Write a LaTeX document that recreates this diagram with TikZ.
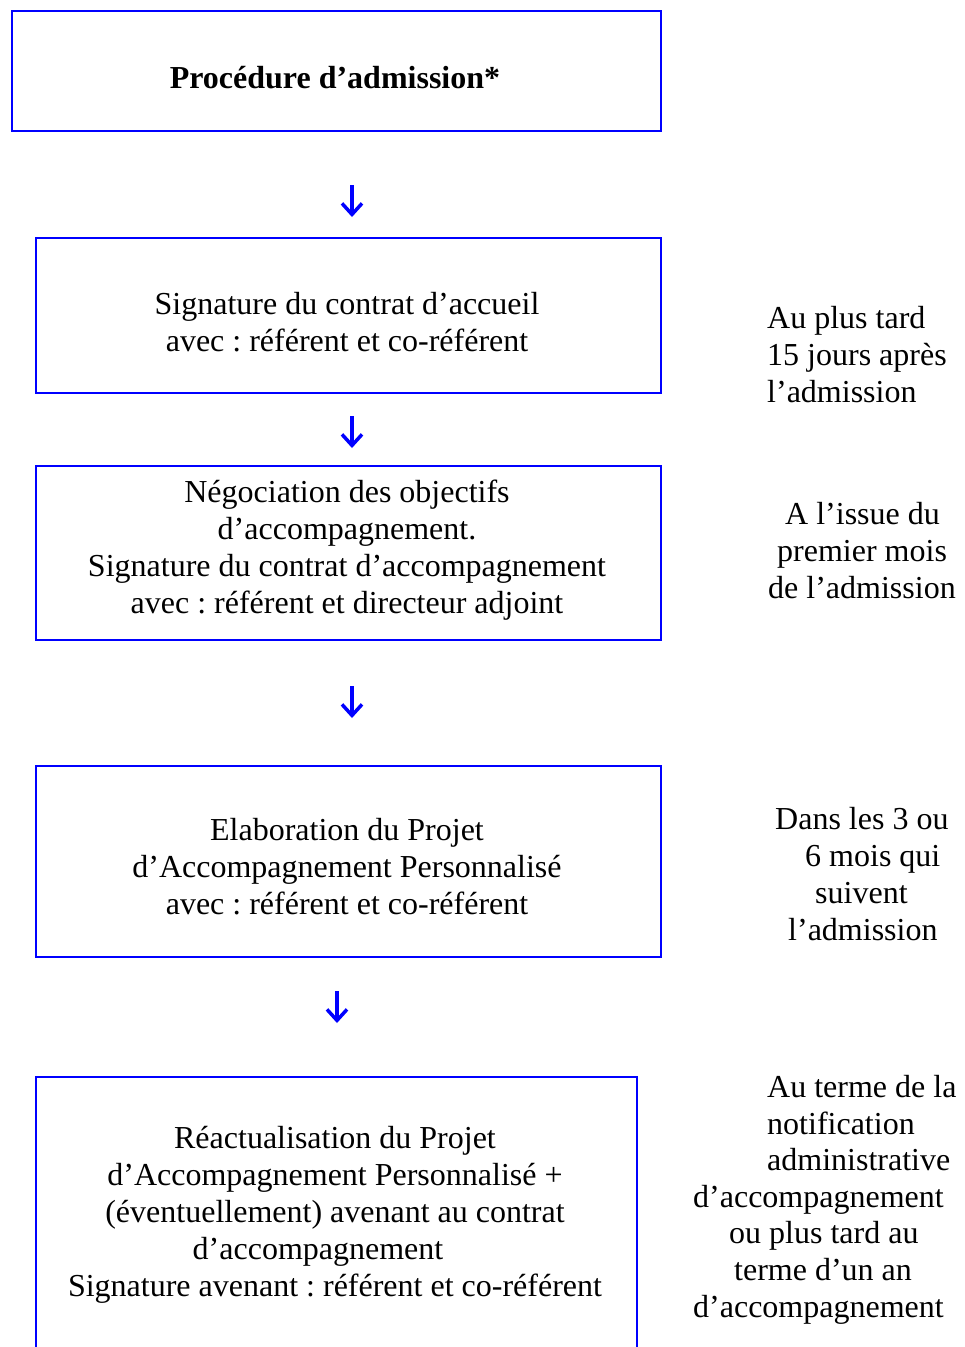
\documentclass[tikz,border=0pt]{standalone}
\usepackage{fontspec}
\setmainfont{Liberation Serif}
\usetikzlibrary{arrows.meta}
\definecolor{bl}{RGB}{0,0,255}
\frenchspacing
\begin{document}
\begin{tikzpicture}[x=1pt,y=-1pt,
  box/.style={draw=bl, line width=2pt, anchor=north west, inner sep=0pt},
  txt/.style={font=\fontsize{32}{37}\selectfont, align=center, inner sep=0pt},
  side/.style={font=\fontsize{32}{37}\selectfont, anchor=base west, inner sep=0pt},
  arr/.style={draw=bl, line width=3.5pt, -{Straight Barb[length=11pt,width=20pt,line width=3.5pt]}}]
\useasboundingbox (0,0) rectangle (965,1347);
\clip (0,0) rectangle (965,1347);
\fill[white] (0,0) rectangle (965,1347);

% boxes
\node[box, minimum width=649pt, minimum height=120pt] (b1) at (11,10) {};
\node[box, minimum width=625pt, minimum height=155pt] (b2) at (35,237) {};
\node[box, minimum width=625pt, minimum height=174pt] (b3) at (35,465) {};
\node[box, minimum width=625pt, minimum height=191pt] (b4) at (35,765) {};
\node[box, minimum width=601pt, minimum height=320pt] (b5) at (35,1076) {};

% box texts
\node[txt, font=\fontsize{32}{37}\selectfont\bfseries] (t1) at (335,78) {Procédure d’admission*};
\node[txt] (t2) at (347,322) {Signature du contrat d’accueil\\avec : référent et co-référent};
\node[txt] (t3) at (347,550) {Négociation des objectifs\\d’accompagnement.\\Signature du contrat d’accompagnement\\avec : référent et directeur adjoint};
\node[txt] (t4) at (347,867) {Elaboration du Projet\\d’Accompagnement Personnalisé\\avec : référent et co-référent};
\node[txt] (t5) at (335,1215) {Réactualisation du Projet\\d’Accompagnement Personnalisé +\\(éventuellement) avenant au contrat\\d’accompagnement\rule{34pt}{0pt}\\Signature avenant : référent et co-référent};

% arrows
\coordinate (a1s) at (352,185); \coordinate (a1e) at (352,217);
\coordinate (a2s) at (352,416); \coordinate (a2e) at (352,448);
\coordinate (a3s) at (352,686); \coordinate (a3e) at (352,718);
\coordinate (a4s) at (337,991); \coordinate (a4e) at (337,1023);
\draw[arr] (a1s) -- (a1e);
\draw[arr] (a2s) -- (a2e);
\draw[arr] (a3s) -- (a3e);
\draw[arr] (a4s) -- (a4e);

% side texts
\node[side] (s1a) at (767,328) {Au plus tard};
\node[side] (s1b) at (767,365) {15 jours après};
\node[side] (s1c) at (767,402) {l’admission};

\node[side] (s2a) at (785,524) {A l’issue du};
\node[side] (s2b) at (777,561) {premier mois};
\node[side] (s2c) at (768,598) {de l’admission};

\node[side] (s3a) at (775,829) {Dans les 3 ou};
\node[side] (s3b) at (805,866) {6 mois qui};
\node[side] (s3c) at (815,903) {suivent};
\node[side] (s3d) at (788,940) {l’admission};

\node[side] (s4a) at (767,1097) {Au terme de la};
\node[side] (s4b) at (767,1134) {notification};
\node[side] (s4c) at (767,1170) {administrative};
\node[side] (s4d) at (693,1207) {d’accompagnement};
\node[side] (s4e) at (729,1243) {ou plus tard au};
\node[side] (s4f) at (734,1280) {terme d’un an};
\node[side] (s4g) at (693,1317) {d’accompagnement};
\end{tikzpicture}
\end{document}
